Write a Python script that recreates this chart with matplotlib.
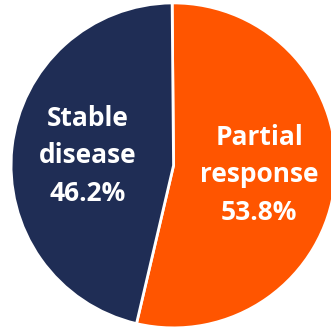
import matplotlib
matplotlib.use("Agg")
import matplotlib.pyplot as plt

labels = ["Partial\nresponse", "Stable\ndisease"]
shares = [53.8, 46.2]
colors = ["#FF5500", "#1F2D55"]

fig = plt.figure(figsize=(3.31, 3.30), dpi=100)
ax = fig.add_axes([0.0, 0.0, 1.0, 1.0])

texts = [f"{l}\n{s:.1f}%" for l, s in zip(labels, shares)]
ax.pie(shares, labels=texts, colors=colors, startangle=90.5, counterclock=False,
       labeldistance=0.53, radius=1.0,
       wedgeprops=dict(edgecolor="white", linewidth=2),
       textprops=dict(ha="center", va="center", color="white", fontsize=19,
                      fontweight="bold", family="Open Sans", linespacing=1.5))
# pie sits a little right of centre and is clipped at the right edge
ax.set_xlim(-1.068, 0.969)
ax.set_ylim(-1.013, 1.018)
ax.set_aspect("equal")

plt.savefig("out.png", dpi=100, facecolor="white")
